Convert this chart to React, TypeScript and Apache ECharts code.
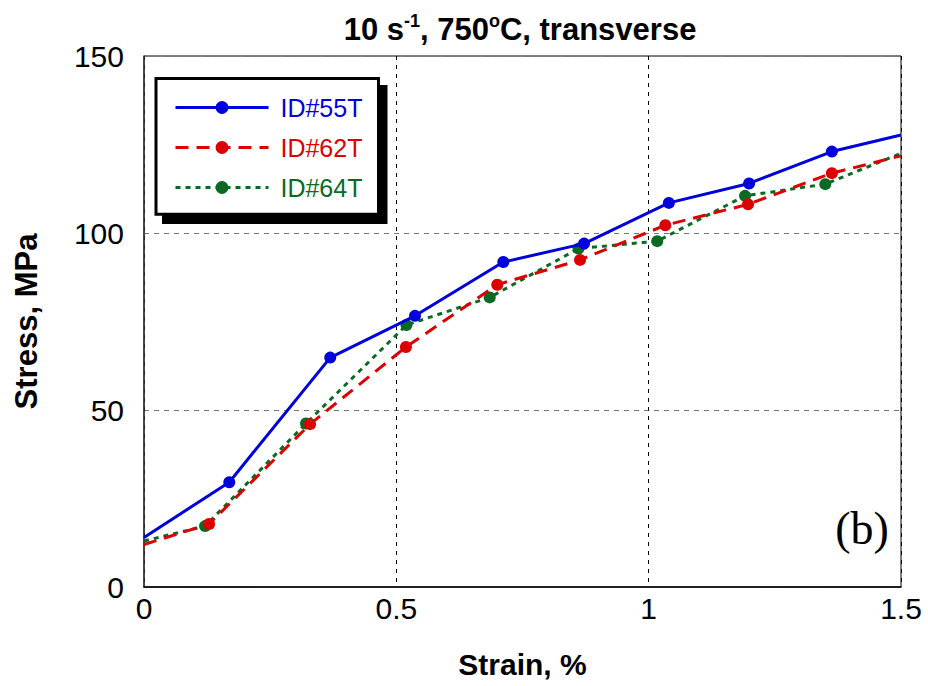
import React, { useEffect, useRef } from "react";
import * as echarts from "echarts";

const seriesNames = ["ID#55T", "ID#62T", "ID#64T"];
const seriesColors = ["#0000DD", "#DD0000", "#0A6A24"];

const strain55 = [0, 0.169, 0.369, 0.537, 0.712, 0.872, 1.04, 1.199, 1.363, 1.5];
const stress55 = [14.0, 29.6, 64.8, 76.6, 91.8, 97.0, 108.5, 114.0, 123.0, 127.7];

const strain62 = [0, 0.129, 0.329, 0.519, 0.7, 0.864, 1.033, 1.197, 1.363, 1.5];
const stress62 = [12.0, 17.8, 46.0, 67.8, 85.4, 92.4, 102.2, 108.1, 116.9, 121.8];

const strain64 = [0, 0.121, 0.321, 0.52, 0.685, 0.861, 1.017, 1.191, 1.35, 1.5];
const stress64 = [13.0, 17.2, 46.2, 74.0, 81.8, 95.6, 97.7, 110.5, 113.8, 122.5];

const xTicks = [0, 0.5, 1, 1.5];
const yTicks = [0, 50, 100, 150];

const SANS = "'Liberation Sans', Arial, Helvetica, sans-serif";
const SERIF = "'Liberation Serif', 'Times New Roman', serif";

function buildData(xs: number[], ys: number[]) {
  return xs.map((x, i) => ({
    value: [x, ys[i]],
    symbol: i === 0 || i === xs.length - 1 ? "none" : "circle",
  }));
}

export default function App() {
  const ref = useRef<HTMLDivElement>(null);
  useEffect(() => {
    if (!ref.current) return;
    const chart = echarts.init(ref.current, undefined, { renderer: "svg" });
    const lineTypes: any[] = ["solid", [13, 8], [5, 5]];
    const datasets = [
      buildData(strain55, stress55),
      buildData(strain62, stress62),
      buildData(strain64, stress64),
    ];
    chart.setOption({
      animation: false,
      backgroundColor: "#fff",
      textStyle: { fontFamily: SANS },
      grid: {
        left: 144,
        right: 27,
        top: 56,
        bottom: 99,
        show: true,
        borderColor: "#000",
        borderWidth: 1,
        backgroundColor: "transparent",
      },
      xAxis: {
        type: "value",
        min: xTicks[0],
        max: xTicks[xTicks.length - 1],
        interval: 0.5,
        name: "Strain, %",
        nameLocation: "middle",
        nameGap: 62,
        nameTextStyle: { fontSize: 30, fontWeight: "bold", color: "#000", fontFamily: SANS },
        axisLine: { show: true, lineStyle: { color: "#000", width: 1.5 } },
        axisTick: { show: false },
        axisLabel: {
          fontSize: 30,
          color: "#000",
          margin: 6,
          fontFamily: SANS,
          formatter: (v: number) => String(v),
        },
        splitLine: { show: true, lineStyle: { color: "#000", type: [4, 5], width: 1 } },
      },
      yAxis: {
        type: "value",
        min: yTicks[0],
        max: yTicks[yTicks.length - 1],
        interval: 50,
        name: "Stress, MPa",
        nameLocation: "middle",
        nameRotate: 90,
        nameGap: 102,
        nameTextStyle: { fontSize: 31, fontWeight: "bold", color: "#000", fontFamily: SANS },
        axisLine: { show: true, lineStyle: { color: "#333", width: 1.5 } },
        axisTick: { show: false },
        axisLabel: { fontSize: 30, color: "#000", margin: 20, fontFamily: SANS },
        splitLine: { show: true, lineStyle: { color: "#777", type: [5, 5], width: 1 } },
      },
      legend: {
        show: true,
        orient: "vertical",
        left: 174,
        top: 95,
        padding: 0,
        itemWidth: 93,
        itemHeight: 16,
        itemGap: 15,
        backgroundColor: "transparent",
        selectedMode: false,
        formatter: (name: string) => " " + name,
        textStyle: { fontSize: 25, fontFamily: SANS },
        lineStyle: { width: 3 },
        data: seriesNames.map((n, i) => ({
          name: n,
          textStyle: { color: seriesColors[i] },
        })),
      },
      graphic: [
        {
          type: "rect",
          z: 3,
          silent: true,
          shape: { x: 162, y: 85, width: 225.5, height: 139 },
          style: { fill: "#000" },
        },
        {
          type: "rect",
          z: 3,
          silent: true,
          shape: { x: 156, y: 78.5, width: 222.5, height: 135.7 },
          style: { fill: "#fff", stroke: "#000", lineWidth: 3 },
        },
        {
          type: "text",
          z: 5,
          x: 520,
          y: 29,
          style: {
            text: "{a|10 s}{sup|-1}{a|, 750}{sup|o}{a|C, transverse}",
            align: "center",
            verticalAlign: "middle",
            fill: "#000",
            rich: {
              a: { fontSize: 31, fontWeight: "bold", fontFamily: SANS, lineHeight: 34 },
              sup: {
                fontSize: 18,
                fontWeight: "bold",
                fontFamily: SANS,
                verticalAlign: "top",
                lineHeight: 18,
              },
            },
          },
        },
        {
          type: "text",
          z: 5,
          x: 862,
          y: 528,
          style: {
            text: "(b)",
            align: "center",
            verticalAlign: "middle",
            fill: "#000",
            fontSize: 46,
            fontFamily: SERIF,
          },
        },
      ],
      series: seriesNames.map((n, i) => ({
        name: n,
        type: "line",
        data: datasets[i],
        symbol: "circle",
        symbolSize: 12,
        showAllSymbol: true,
        clip: true,
        color: seriesColors[i],
        itemStyle: { color: seriesColors[i] },
        lineStyle: { color: seriesColors[i], width: 3, type: lineTypes[i] },
        z: 2 + (2 - i),
      })),
    });
    return () => chart.dispose();
  }, []);
  return (
    <div
      ref={ref}
      style={{ position: "fixed", left: 0, top: 0, width: 928, height: 686 }}
    />
  );
}
